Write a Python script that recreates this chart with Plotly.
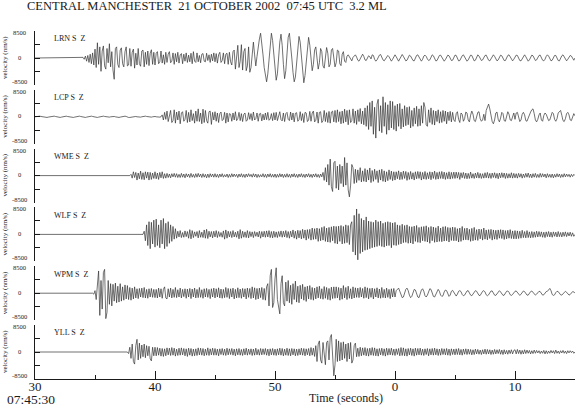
import plotly.graph_objects as go

# ---------------- data ----------------
STATIONS = ["LRN", "LCP", "WME", "WLF", "WPM", "YLL"]
COMPONENT_LABEL = "S  Z"
T_START = 30.0          # seconds (07:45:30)
T_STEP = 0.1            # sampling interval, seconds
VALUE_UNIT = 100        # stored values are in units of 100 nm/s
X_TICK_VALS = [30, 40, 50, 60, 70]
X_TICK_TEXT = ["30", "40", "50", "0", "10"]
X_MINOR_VALS = [35, 45, 55, 65, 75]
Y_TICK_VALS = [-8500, -4250, 0, 4250, 8500]
Y_LABEL_VALS = [8500, 0, -8500]
TITLE = "CENTRAL MANCHESTER  21 OCTOBER 2002  07:45 UTC  3.2 ML"
START_CLOCK = "07:45:30"
X_TITLE = "Time (seconds)"
Y_TITLE = "velocity (nm/s)"

LRN = [
    0,0,0,0,0,0,0,0,0,0, 0,0,0,0,0,0,0,0,0,0, 0,0,0,0,0,0,0,0,0,0, 0,0,0,0,0,0,0,0,0,0,
    2,-4,6,-10,8,-14,12,-18,16,-22,
    28,-30,48,-20,35,-42,22,38,-25,-35, 30,-15,45,-28,20,-38,-67,30,35,-20,
    -30,25,32,-18,-28,20,35,-25,-22,30, -26,18,28,-32,15,-22,30,-18,-26,22,
    25,-28,18,-20,22,-24,15,26,-20,18,
    -22,15,20,-18,-12,22,-16,10,-20,18, -14,12,20,-15,-10,16,-20,14,-12,18,
    -16,10,14,-18,12,-10,16,-14,9,-12, 15,-18,20,-10,-14,16,-12,8,-15,12,
    14,-10,-12,15,-8,10,-14,12,-9,16,
    -12,14,-16,10,18,-14,-8,16,-18,12, 15,-20,18,-12,-22,20,25,-35,15,40,
    -30,-10,42,-38,20,30,-40,-25,35,-45, -30,20,50,10,-25,5,45,60,78,50,
    10,-30,-60,-75,-50,-5,40,78,55,10,
    -30,-70,-50,5,50,75,40,-20,-65,-40, 20,65,78,45,0,-45,-75,-60,-10,40,
    68,50,5,-40,-78,-55,-10,35,65,40, -10,-40,-20,25,35,-5,-35,-15,30,20,
    -25,-32,10,33,15,-28,-20,25,30,-10,
    -28,-15,25,22,-18,-24,12,20,-10,-14, 6,10,4,-6,-9,2,8,10,3,-7,
    -10,-4,6,12,5,-6,-8,2,7,4, -3,10,8,-4,-10,-6,5,9,11,2,
    -6,-9,-3,6,8,4,-5,-10,-4,6,
    10,4,-6,-10,-3,7,11,5,-4,-9, -7,3,9,6,-2,-8,-9,-1,8,10,
    2,-7,-10,-4,6,9,5,-3,-8,-6, 4,10,7,-3,-9,-8,2,8,9,1,
    -6,-10,-5,4,9,7,-2,-8,-7,3,
    9,8,-1,-9,-8,1,7,10,4,-5, -10,-6,3,9,8,-2,-9,-7,2,10,
    6,-4,-8,-6,3,8,9,1,-7,-9, -3,6,10,5,-5,-9,-6,4,9,7,
    -2,-8,-8,1,8,10,3,-6,-9,-4,
    5,9,8,-1,-8,-9,-2,7,10,4, -5,-10,-6,3,9,7,-3,-8,-6,2,
    8,9,2,-7,-9,-4,5,10,6,-3, -9,-7,2,8,8,-1,-8,-9,0,7,
    10,3,-6,-9,-4,5,8,6,-2,-7,
    0,
]
LCP = [
    0,1,1,2,2,1,0,-1,-1,-2, -2,-1,0,0,1,2,2,1,0,-1, -2,-2,-1,0,1,1,2,1,0,-1,
    -1,-2,-2,-1,0,1,2,2,1,0, -1,-1,-2,-1,0,1,1,2,1,0,
    -1,-2,-2,-1,0,1,2,2,1,0, -1,-2,-1,0,1,2,1,0,-1,-2, -2,-1,0,1,2,2,1,-1,-2,-2,
    -1,0,1,2,1,0,-1,-2,-1,0, 1,2,2,1,0,-1,-2,-1,0,1,
    1,0,-1,-2,-1,0,6,-10,14,-8, 18,-15,10,20,-18,-12,22,-20,15,-10,
    18,-22,12,16,-14,-8,20,-18,14,-16, 22,-12,10,-20,18,-14,25,-15,12,-22,
    24,-18,20,-12,-20,16,18,-24,14,-10,
    16,-14,12,-18,10,15,-12,-8,14,-20, 12,-16,10,8,-14,12,-10,16,-12,-6,
    14,-12,10,-15,8,12,-14,-10,13,-8, 10,-12,15,-10,-6,12,-14,9,11,-13,
    8,-10,12,-9,14,-11,-7,10,-12,13,
    -10,14,-12,8,16,-9,-13,12,-15,10, 14,-8,-12,15,-10,12,-16,11,13,-14,
    -9,16,-12,10,-18,14,12,-15,-10,17, -14,12,18,-16,-11,15,-20,14,16,-18,
    -12,20,-15,13,-18,17,-20,15,18,-16,
    20,-18,22,-15,16,-22,18,-20,24,-16, 20,-25,22,-18,-12,25,-20,18,-24,22,
    -15,26,-22,18,-25,28,-30,35,-40,45, -30,50,-55,30,-67,40,55,-45,35,-50,
    63,-30,45,-55,38,-42,50,-35,48,-40,
    35,-45,40,-30,42,-38,25,-32,35,-28, 30,-25,32,-35,20,-30,28,-22,33,-30,
    25,-28,35,-20,45,30,-25,-30,22,-18, 28,-24,20,-26,18,-15,22,-20,16,-18,
    20,-14,18,-22,15,-12,17,-16,14,-10,
    -15,10,16,-8,-18,12,8,-14,-6,15, 12,-10,-16,5,18,8,-12,-15,4,14,
    16,-6,-14,-10,8,-12,20,32,40,25, 5,-15,-22,-10,12,15,-8,-16,-4,14,
    10,-12,-14,6,16,8,-10,-12,5,12,
    -8,12,14,-6,-15,-10,8,14,6,-12, -14,-4,10,15,22,25,10,-10,-16,-8,
    6,12,-10,-14,4,12,8,-6,-12,-10, 5,14,10,-8,-14,-6,12,18,20,5,
    -12,-15,-6,10,14,6,-10,-12,4,10,
    3,
]
WME = [
    0,0,0,0,0,0,0,0,0,0, 0,0,0,0,0,0,0,0,0,0, 0,0,0,0,0,0,0,0,0,0,
    0,0,0,0,0,0,0,0,0,0, 0,0,0,0,0,0,0,0,0,0,
    0,0,0,0,0,0,0,0,0,0, 0,0,0,0,0,0,0,0,0,0, 0,0,0,0,0,0,0,0,0,0,
    4,-8,12,-6,10,-14,8,-10,14,-12, 9,-13,12,-8,11,-14,10,-12,8,-9,
    12,-10,8,-12,10,-7,12,-9,6,-8, 7,-6,5,-7,6,-4,7,-5,6,-6,
    4,-6,7,-5,5,-7,6,-4,5,-6, 7,-5,4,-6,6,-5,7,-4,5,-6,
    6,-5,4,-7,5,-6,6,-4,5,-5,
    6,-5,4,-6,5,-4,6,-5,3,-4, 5,-6,4,-5,6,-4,5,-3,4,-6,
    5,-4,6,-5,4,-6,5,-4,6,-3, 4,-5,6,-4,5,-6,4,-5,3,-4,
    6,-5,4,-6,5,-4,6,-5,4,-5,
    5,-6,4,-5,6,-4,5,-6,4,-5, 6,-5,4,-6,5,-4,6,-5,4,-6,
    5,-4,6,-5,4,-6,5,-4,6,-5, 4,-6,5,-4,6,-5,4,-6,5,-4,
    10,-15,25,-20,35,-30,52,-35,-50,40,
    45,-40,30,-45,35,-25,30,-35,57,-30, 40,-45,-67,-30,35,25,-25,20,-22,18,
    -15,25,-20,15,-18,22,-20,18,-14,24, -22,16,-18,20,-12,15,-22,18,-14,20,
    -18,15,-20,12,-16,18,-12,14,-16,12,
    -14,12,-10,15,-13,11,-12,14,-9,13, -15,10,-12,13,-11,9,-14,12,-10,13,
    -9,12,-14,10,-11,13,-12,9,-10,12, -13,11,-9,14,-12,10,-11,12,-9,13,
    -10,11,-12,9,-10,12,-11,10,-9,11,
    -9,11,-8,10,-12,9,-7,10,-9,8, -10,7,-9,11,-8,6,-9,8,-7,10,
    -8,7,-9,6,-8,9,-7,10,-8,7, -9,8,-6,9,-8,7,-10,8,-7,9,
    -6,8,-9,7,-8,6,-7,9,-8,7,
    -7,6,-8,7,-5,6,-8,5,-6,7, -5,8,-6,5,-7,6,-5,7,-6,4,
    -6,7,-5,6,-4,5,-7,6,-5,4, -6,5,-7,4,-5,6,-4,5,-6,4,
    -5,6,-4,5,-3,4,-5,4,-3,4,
    0,
]
WLF = [
    0,0,0,0,0,0,0,0,0,0, 0,0,0,0,0,0,0,0,0,0, 0,0,0,0,0,0,0,0,0,0,
    0,0,0,0,0,0,0,0,0,0, 0,0,0,0,0,0,0,0,0,0,
    0,0,0,0,0,0,0,0,0,0, 0,0,0,0,0,0,0,0,0,0, 0,0,0,0,0,0,0,0,0,0,
    0,0,0,0,0,0,0,0,0,0, 0,10,-20,30,-35,40,-45,38,-30,45,
    -40,48,-35,30,-42,45,-30,50,-45,35, -38,40,-28,30,-22,25,-15,18,-12,10,
    -8,12,-10,6,-9,11,-7,9,-12,15, -14,12,-10,8,-6,9,-11,12,-9,7,
    -10,14,-12,16,-13,10,-8,9,-11,10,
    -8,12,-10,9,-7,6,-9,11,-15,14, -12,10,-8,9,-10,12,-8,7,-9,10,
    -14,15,-12,10,-9,8,-10,12,-11,9, -7,8,-10,9,-6,7,-8,10,-12,9,
    -8,10,-9,11,-8,12,-10,9,-11,10,
    -9,8,-10,9,-7,11,-9,10,-8,12, -10,9,-12,10,-8,14,-12,10,-15,13,
    -11,12,-14,16,-12,14,-18,15,-13,16, -18,20,-16,18,-15,20,-22,18,-20,22,
    -18,25,-22,20,-24,22,-25,24,-20,26,
    -28,25,-30,26,-22,28,-30,25,-28,30, -26,28,-32,30,40,-55,60,-65,80,-80,
    65,-60,50,-55,45,-50,55,-48,42,-45, 40,-42,38,-40,45,-38,40,-35,42,-38,
    35,-40,38,-36,40,-35,38,-42,36,-34,
    38,-35,30,-32,28,-30,32,-26,28,-25, 30,-28,25,-27,24,-30,26,-22,28,-25,
    22,-26,24,-20,25,-22,27,-24,22,-28, 25,-20,23,-25,21,-24,26,-22,20,-23,
    24,-21,25,-20,22,-24,21,-19,23,-20,
    22,-20,18,-24,20,-22,25,-18,19,-17, 20,-18,16,-22,19,-20,22,-18,15,-19,
    17,-14,16,-18,20,-15,14,-17,15,-13, 16,-18,14,-15,13,-16,14,-12,15,-13,
    14,-16,12,-14,13,-12,15,-13,11,-14,
    12,-14,11,-13,10,-12,13,-10,9,-11, 12,-10,8,-11,9,-10,8,-9,10,-8,
    9,-7,8,-9,7,-10,8,-7,9,-8, 7,-9,8,-6,7,-8,9,-7,6,-8,
    7,-6,8,-7,6,-5,7,-6,5,-6,
    0,
]
WPM = [
    0,0,0,0,0,0,0,0,0,0, 0,0,0,0,0,0,0,0,0,0, 0,0,0,0,0,0,0,0,0,0,
    0,0,0,0,0,0,0,0,0,0, 0,0,0,0,0,0,0,0,0,-3,
    8,-20,45,70,-70,40,-50,65,75,-80, -60,40,-35,30,-40,28,-25,32,-30,22,
    -28,30,-25,20,-22,26,-18,24,-20,18, -22,16,-18,20,-15,14,-17,15,-12,16,
    -14,18,-15,12,-16,14,-12,15,-13,12,
    -14,12,-15,16,-12,14,-16,12,20,-15, -18,14,-12,16,-15,12,-13,18,-14,11,
    -12,16,-15,12,-11,14,-16,13,-12,15, -17,13,-12,16,-15,12,-14,18,-13,11,
    -16,14,-12,15,-13,12,-17,14,-12,16,
    -15,14,-12,17,-15,13,-16,12,-14,18, -13,15,-17,14,-12,16,-18,12,-15,17,
    -14,13,-16,15,-12,14,-18,16,-13,15, -17,20,-15,17,-20,15,-18,16,-14,18,
    -20,15,-22,20,30,-40,55,75,-45,-30,
    45,80,-20,-50,-65,30,55,-30,-40,35, -25,40,-30,25,-35,30,-20,38,-28,22,
    -30,25,-18,28,-22,20,-26,22,-18,24, -20,18,-22,16,-18,20,-15,22,-17,14,
    -19,21,-16,18,-20,15,-22,19,-17,20,
    -16,20,-15,18,-22,16,-19,24,-15,18, -20,22,-16,14,-18,20,-15,17,-13,16,
    -14,18,-12,15,-16,20,-14,17,-18,15, -13,16,-18,14,-12,17,-15,13,-16,18,
    -14,12,-15,16,-13,12,-17,14,-12,15,
    -12,8,14,16,6,-8,-14,-12,4,12, 16,8,-6,-14,-10,4,12,10,-4,-12,
    -14,-2,10,14,6,-8,-12,-6,8,14, 12,-2,-10,-12,-4,8,12,6,-6,-10,
    -8,4,10,8,-4,-10,-6,6,9,2,
    -6,-9,-3,6,8,5,-4,-8,-6,3, 7,8,1,-6,-8,-3,5,8,6,-2,
    -7,-7,0,6,8,4,-5,-8,-5,3, 7,7,0,-6,-7,-2,5,8,4,-4,
    -7,-6,1,6,7,3,-5,-7,-4,3,
    6,7,2,-5,-7,-3,4,7,5,-2, -6,-6,0,5,7,3,-4,-6,-3,3,
    6,5,-2,-6,-5,1,5,6,10,15, 8,-4,-7,-5,2,6,5,-1,-5,-6,
    -1,4,6,3,-3,-6,-4,2,5,4,
    0,
]
YLL = [
    0,0,0,0,0,0,0,0,0,0, 0,0,0,0,0,0,0,0,0,0, 0,0,0,0,0,0,0,0,0,0,
    0,0,0,0,0,0,0,0,0,0, 0,0,0,0,0,0,0,0,0,0,
    0,0,0,0,0,0,0,0,0,0, 0,0,0,0,0,0,0,0,0,0, 0,0,0,0,0,0,0,0,-5,15,
    -20,25,-30,-38,20,40,-25,28,-20,22, -15,25,-18,20,-12,18,-22,-28,15,-12,
    15,-12,14,-10,12,-13,11,-14,10,-12, 13,-9,12,-11,14,-10,12,-13,9,-11,
    12,-10,13,-9,11,-12,10,-14,12,-10, 11,-13,9,-12,10,-11,13,-9,12,-10,
    11,-12,9,-10,13,-11,10,-9,12,-10,
    11,-10,9,-12,10,-8,11,-10,9,-11, 12,-9,10,-8,11,-10,9,-12,10,-9,
    11,-10,8,-11,10,-9,12,-10,9,-8, 10,-11,9,-10,12,-9,8,-10,11,-9,
    10,-8,11,-10,9,-12,10,-9,11,-10,
    9,-11,10,-9,12,-10,11,-12,9,-10, 12,-11,10,-12,11,-9,10,-12,9,-11,
    10,-9,12,-10,11,-12,10,-9,11,-12, 14,-10,12,-14,20,-30,25,35,-25,-35,
    30,-20,-40,30,35,-25,45,55,-30,-75,
    -40,40,-30,35,-28,30,-25,32,-20,25, -30,28,-22,30,-35,-25,20,28,-15,12,
    -14,15,-12,13,-10,14,-12,11,-13,12, -10,14,-11,13,-12,10,-13,11,-9,12,
    -11,10,-13,12,-10,11,-9,12,-10,9,
    -11,10,-8,11,-12,14,-11,13,-12,10, -13,11,-9,12,-11,10,-13,12,-10,11,
    -9,12,-10,9,-11,10,-8,11,-12,10, -9,11,-10,12,-9,10,-11,9,-10,11,
    -8,10,-9,11,-10,9,-11,10,-8,9,
    -9,10,-8,11,-9,8,-10,9,-7,10, -8,9,-7,8,-9,7,-8,9,-6,8,
    -7,6,-8,7,-6,9,-7,8,-6,7, -8,6,-7,8,-6,7,-5,8,-7,6,
    -8,7,-6,5,-7,6,-5,7,-6,5,
    7,-6,8,-5,6,-7,5,-6,7,-5, 6,-4,5,-6,4,-5,6,-4,5,-3,
    4,-5,3,-4,5,-6,4,-5,3,-4, 5,-3,4,-5,6,-4,3,-5,4,-3,
    5,-4,3,-5,4,-3,4,-2,3,-4,
    0,
]
TRACES = [LRN, LCP, WME, WLF, WPM, YLL]

_lens = [len(t) for t in TRACES]
if any(n != 451 for n in _lens):
    raise ValueError(f"trace lengths {_lens}")

# ---------------- layout geometry ----------------
W, H = 576, 408
ML, MR, MT, MB = 35, 1, 31, 29
PLOT_W = W - ML - MR
PLOT_H = H - MT - MB
PANEL_H = 54
PANEL_STEP = 58.8
FONT = "Liberation Serif, Times New Roman, serif"
INK = "#1a1a1a"
LABEL_SHIFT = {8500: -1.5, 0: 1, -8500: 3.5}

fig = go.Figure()
annotations = []
layout_axes = {}

for i, (name, vals) in enumerate(zip(STATIONS, TRACES)):
    ax_id = "" if i == 0 else str(i + 1)
    top = 1 - (i * PANEL_STEP) / PLOT_H
    bot = 1 - (i * PANEL_STEP + PANEL_H) / PLOT_H
    fig.add_trace(go.Scatter(
        x0=T_START, dx=T_STEP,
        y=[v * VALUE_UNIT for v in vals],
        mode="lines",
        line=dict(color="#333333", width=0.7),
        xaxis="x", yaxis="y" + ax_id,
        hoverinfo="skip", showlegend=False,
    ))
    layout_axes["yaxis" + ax_id] = dict(
        domain=[max(bot, 0), min(top, 1)],
        range=[-8500, 8500],
        anchor="x",
        showline=True, linecolor=INK, linewidth=1,
        ticks="inside", ticklen=5, tickcolor=INK, tickwidth=1,
        tickvals=Y_TICK_VALS, showticklabels=False,
        showgrid=False, zeroline=False, fixedrange=True,
    )
    yref = "y" + ax_id
    for v in Y_LABEL_VALS:
        annotations.append(dict(
            text=str(v), x=(19 - ML) / PLOT_W, xref="paper", xanchor="center",
            y=v, yref=yref, yanchor="middle", yshift=LABEL_SHIFT[v],
            showarrow=False,
            font=dict(family=FONT, size=6.5, color=INK),
        ))
    annotations.append(dict(
        text=Y_TITLE, textangle=-90,
        x=(5 - ML) / PLOT_W, xref="paper", xanchor="center",
        y=(top + bot) / 2, yref="paper", yanchor="middle", showarrow=False,
        font=dict(family=FONT, size=7, color=INK),
    ))
    annotations.append(dict(
        text=f"{name} {COMPONENT_LABEL}", x=(52 - ML) / PLOT_W, xref="paper",
        xanchor="left", y=6000, yref=yref, yanchor="middle", showarrow=False,
        font=dict(family=FONT, size=8, color=INK),
    ))

annotations.append(dict(
    text=TITLE, x=(25 - ML) / PLOT_W, xref="paper", xanchor="left",
    y=(H - MB - 6) / PLOT_H, yref="paper", yanchor="middle", showarrow=False,
    font=dict(family=FONT, size=12.5, color=INK),
))
annotations.append(dict(
    text=START_CLOCK, x=(31 - ML) / PLOT_W, xref="paper", xanchor="center",
    y=-(399.5 - (H - MB)) / PLOT_H, yref="paper", yanchor="middle", showarrow=False,
    font=dict(family=FONT, size=13.5, color=INK),
))
annotations.append(dict(
    text=X_TITLE, x=(346 - ML) / PLOT_W, xref="paper", xanchor="center",
    y=-(398 - (H - MB)) / PLOT_H, yref="paper", yanchor="middle", showarrow=False,
    font=dict(family=FONT, size=12, color=INK),
))

fig.update_layout(
    width=W, height=H,
    margin=dict(l=ML, r=MR, t=MT, b=MB, pad=0),
    paper_bgcolor="white", plot_bgcolor="white",
    showlegend=False,
    xaxis=dict(
        range=[30, 75], anchor="y6",
        showline=True, linecolor=INK, linewidth=1,
        ticks="inside", ticklen=8, tickcolor=INK, tickwidth=1,
        tickvals=X_TICK_VALS, ticktext=X_TICK_TEXT,
        tickfont=dict(family=FONT, size=13, color=INK),
        ticklabelstandoff=-5,
        minor=dict(tickvals=X_MINOR_VALS, ticks="inside", ticklen=4,
                   tickcolor=INK, tickwidth=1, showgrid=False),
        showgrid=False, zeroline=False, fixedrange=True,
    ),
    annotations=annotations,
    **layout_axes,
)

# the page body gets no default 8px margin, so the figure sits at the window origin
fig.write_html(
    "out.html",
    config={"displayModeBar": False, "staticPlot": True},
    post_script="document.body.style.margin='0';document.body.style.padding='0';",
)
